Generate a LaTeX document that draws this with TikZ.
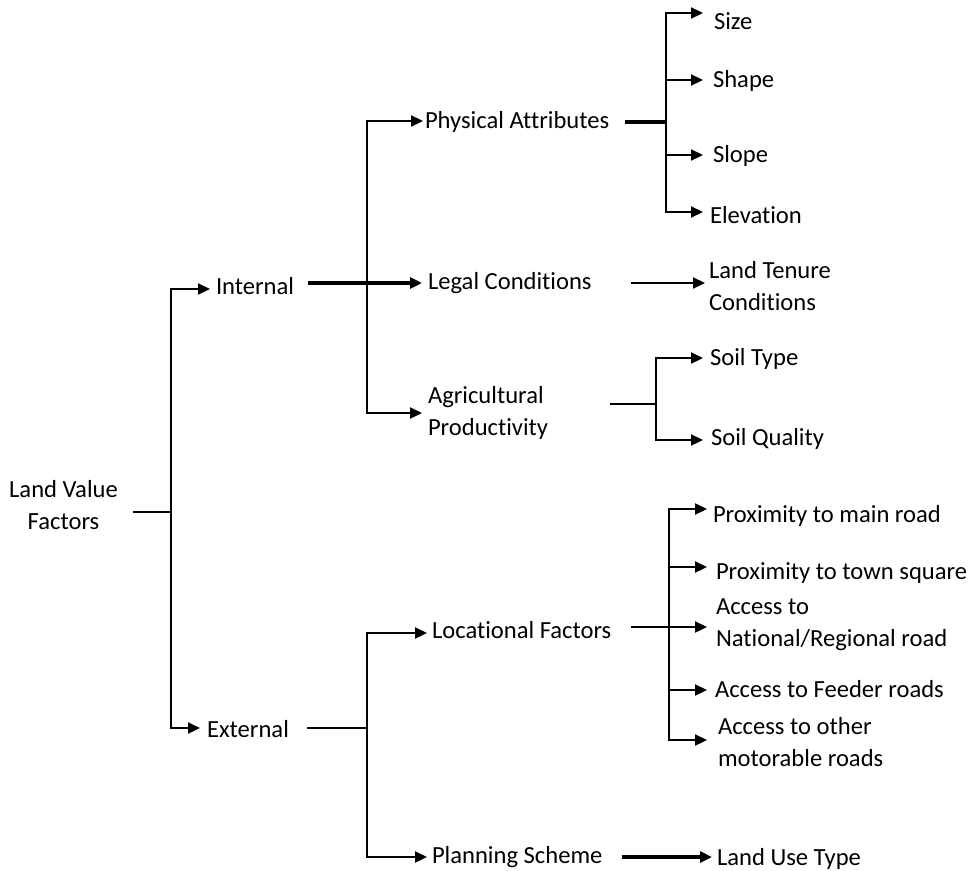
\documentclass[tikz,border=0pt]{standalone}
\usepackage{fontspec}
\setmainfont[Ligatures=NoCommon]{Carlito}
\usetikzlibrary{arrows.meta}
\begin{document}
\begin{tikzpicture}[x=1pt,y=-1pt,
  every node/.style={font=\fontsize{24.6}{32}\selectfont, inner sep=0pt, outer sep=0pt},
  lbl/.style={anchor=west, text height=17pt, text depth=5pt},
  mlbl/.style={anchor=west, align=left},
  conn/.style={line width=2.2pt},
  thickconn/.style={line width=3.5pt},
  heavyconn/.style={line width=4.5pt},
  arr/.style={conn, -{Triangle[length=12pt,width=11pt]}, shorten >=#1},
  arr/.default=6pt,
  thickarr/.style={line width=3.2pt, -{Triangle[length=12pt,width=11pt]}, shorten >=#1},
  thickarr/.default=6pt,
]
\useasboundingbox (0,0) rectangle (973,870);

% nodes
\node[align=center] (lvf) at (63.5,505.5) {Land Value\\Factors};
\node[lbl] (int) at (216,288) {Internal};
\node[lbl] (ext) at (207,731) {External};
\node[lbl] (pa) at (425,122) {Physical Attributes};
\node[lbl] (leg) at (428,283) {Legal Conditions};
\node[mlbl] (agr) at (428,412.5) {Agricultural\\Productivity};
\node[lbl] (size) at (714,23) {Size};
\node[lbl] (shape) at (713,81) {Shape};
\node[lbl] (slope) at (713,156) {Slope};
\node[lbl] (elev) at (710,217) {Elevation};
\node[mlbl] (ltc) at (709,286) {Land Tenure\\Conditions};
\node[lbl] (st) at (710,359) {Soil Type};
\node[lbl] (sq) at (711,439) {Soil Quality};
\node[lbl] (loc) at (432,632) {Locational Factors};
\node[lbl] (plan) at (432,857) {Planning Scheme};
\node[lbl] (p1) at (713,516) {Proximity to main road};
\node[lbl] (p2) at (716,573) {Proximity to town square};
\node[mlbl] (a1) at (716,624.5) {Access to\\National/Regional road};
\node[lbl] (a2) at (715,691) {Access to Feeder roads};
\node[mlbl] (a3) at (718,742.5) {Access to other\\motorable roads};
\node[lbl] (lut) at (717,859) {Land Use Type};

% junctions
\coordinate (j0) at (171,512);
\coordinate (jI) at (367,284);
\coordinate (jPA) at (666,122);
\coordinate (jA) at (656,404);
\coordinate (jE) at (367,728);
\coordinate (jL) at (669,627);

% root
\draw[conn] ([xshift=15pt]lvf.east |- j0) -- (j0);
\draw[arr] (j0) |- ([yshift=-1pt]int.west);
\draw[arr=7pt] (j0) |- ([yshift=3pt]ext.west);

% internal
\draw[thickarr] ([xshift=14pt]int.east |- leg.west) -- (leg.west);
\draw[arr=2pt] (jI) |- ([yshift=1pt]pa.west);
\draw[arr] (jI) |- ([yshift=-0.5pt]agr.west);

% physical attributes
\draw[heavyconn] ([xshift=16pt]pa.east) -- ([xshift=1pt]jPA);
\draw[arr=11pt] (jPA) |- ([yshift=10pt]size.west);
\draw[arr=10pt] (jPA) |- ([yshift=1pt]shape.west);
\draw[arr=10pt] (jPA) |- ([yshift=1pt]slope.west);
\draw[arr=7pt] (jPA) |- ([yshift=5pt]elev.west);

% legal
\draw[arr=4pt] ([xshift=39pt]leg.east) -- (leg.east -| ltc.west);

% agricultural
\draw[conn] ([xshift=62pt]agr.east |- jA) -- (jA);
\draw[arr=7pt] (jA) |- ([yshift=1pt]st.west);
\draw[arr=8pt] (jA) |- ([yshift=-1pt]sq.west);

% external
\draw[conn] ([xshift=18pt]ext.east |- jE) -- (jE);
\draw[arr=5pt] (jE) |- ([yshift=-1pt]loc.west);
\draw[arr=5pt] (jE) |- (plan.west);

% locational
\draw[line width=2.5pt] ([xshift=20pt]loc.east |- jL) -- (jL);
\draw[arr] (jL) |- ([yshift=7pt]p1.west);
\draw[arr=9pt] (jL) |- ([yshift=6pt]p2.west);
\draw[arr=9pt] (jL) |- ([yshift=-2.5pt]a1.west);
\draw[arr=8pt] (jL) |- ([yshift=1pt]a2.west);
\draw[arr=11pt] (jL) |- ([yshift=2.5pt]a3.west);

% planning
\draw[thickarr=5pt] ([xshift=20pt]plan.east) -- (plan.east -| lut.west);
\end{tikzpicture}
\end{document}
